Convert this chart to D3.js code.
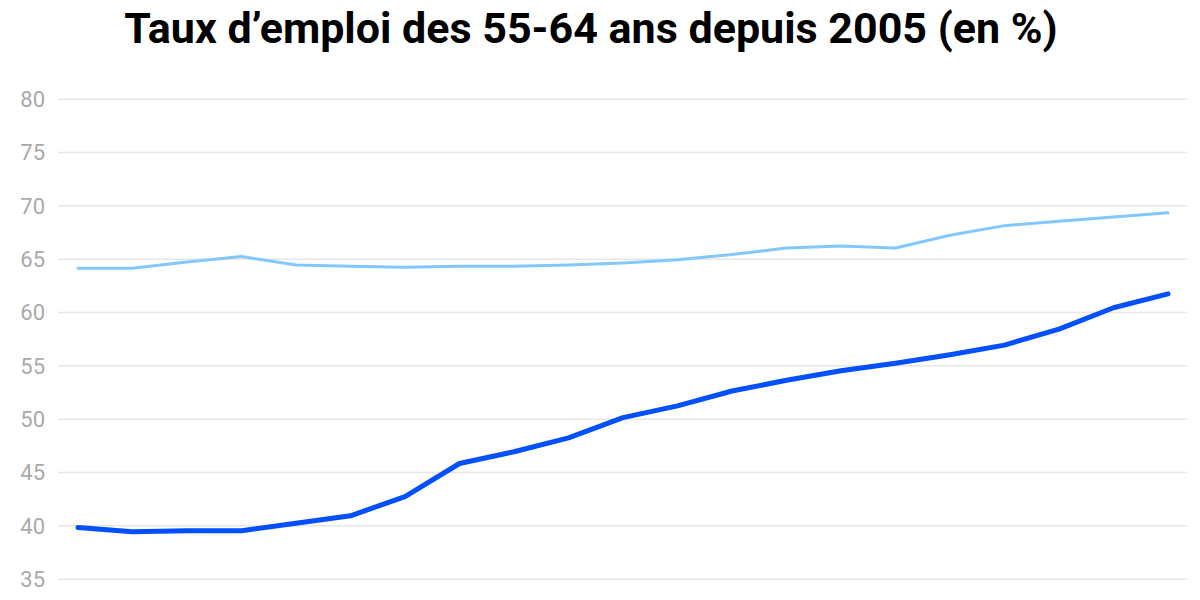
<!DOCTYPE html>
<html>
<head>
<meta charset="utf-8">
<script src="https://cdn.jsdelivr.net/npm/d3@7"></script>
<style>
  body { margin: 0; background: #fff; }
  .title { font-family: Roboto, sans-serif; font-weight: 700; font-size: 43px; fill: #000; }
  .tick text { font-family: Roboto, sans-serif; font-size: 22px; fill: #aaa; }
</style>
</head>
<body>
<script>
const width = 1200;
const height = 600;

const years = d3.range(2005, 2026);
const taux1564 = [64.1, 64.1, 64.7, 65.2, 64.4, 64.3, 64.2, 64.3, 64.3, 64.4, 64.6,
                  64.9, 65.4, 66.0, 66.2, 66.0, 67.2, 68.1, 68.5, 68.9, 69.3];
const taux5564 = [39.8, 39.4, 39.5, 39.5, 40.2, 40.9, 42.7, 45.8, 46.9, 48.2, 50.1,
                  51.2, 52.6, 53.6, 54.5, 55.2, 56.0, 56.9, 58.4, 60.4, 61.7];
const yTicks = [35, 40, 45, 50, 55, 60, 65, 70, 75, 80];

const svg = d3.select("body").append("svg")
              .attr("width", width)
              .attr("height", height);

svg.append("text")
   .attr("class", "title")
   .attr("x", 591)
   .attr("y", 42.5)
   .attr("text-anchor", "middle")
   .text("Taux d’emploi des 55-64 ans depuis 2005 (en %)");

const x = d3.scalePoint().domain(years).range([78, 1168]);
const y = d3.scaleLinear().domain([35, 80]).range([578.7, 98.7]);

const yAxis = svg.append("g")
    .attr("transform", "translate(58,0)")
    .call(d3.axisLeft(y).tickValues(yTicks).tickSize(-1129).tickPadding(13));
yAxis.select(".domain").remove();
yAxis.selectAll(".tick line").attr("stroke", "#e6e6e6").attr("stroke-width", 1.5);
yAxis.selectAll(".tick text").attr("dy", "0.35em");

const line = d3.line()
               .x((d, i) => x(years[i]))
               .y(d => y(d));

svg.append("path")
   .datum(taux1564)
   .attr("d", line)
   .attr("fill", "none")
   .attr("stroke", "#82c8ff")
   .attr("stroke-width", 3)
   .attr("stroke-linecap", "round")
   .attr("stroke-linejoin", "round");

svg.append("path")
   .datum(taux5564)
   .attr("d", line)
   .attr("fill", "none")
   .attr("stroke", "#0050ff")
   .attr("stroke-width", 5)
   .attr("stroke-linecap", "round")
   .attr("stroke-linejoin", "round");
</script>
</body>
</html>
